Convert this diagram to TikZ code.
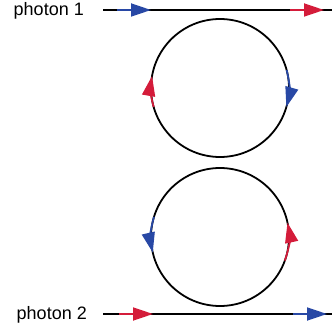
\documentclass[tikz,border=0pt]{standalone}
\usepackage{fontspec}
\setmainfont{Liberation Sans}
\usetikzlibrary{arrows.meta}
\definecolor{arrblue}{RGB}{40,72,165}
\definecolor{arrred}{RGB}{212,28,58}
\begin{document}
\begin{tikzpicture}[x=1pt,y=-1pt,
  wire/.style={line width=1.8pt,black},
  bluearr/.style={line width=1.8pt,arrblue,-{Triangle[length=20pt,width=13pt]}},
  redarr/.style={line width=1.8pt,arrred,-{Triangle[length=20pt,width=13pt]}},
  lbl/.style={anchor=east,inner sep=0pt,font=\fontsize{18}{21}\selectfont}]
\useasboundingbox (0,0) rectangle (332,329);
% labels
\node[lbl] (p1) at (84,11) {photon 1};
\node[lbl] (p2) at (87,315) {photon 2};
% coordinates
\coordinate (a1) at (103,10);
\coordinate (b1) at (335,10);
\coordinate (a2) at (103,314);
\coordinate (b2) at (335,314);
\coordinate (c1) at (220,88);
\coordinate (c2) at (220,237);
% waveguides
\draw[wire] (a1) -- (b1);
\draw[wire] (a2) -- (b2);
% rings
\draw[wire] (c1) circle[radius=69];
\draw[wire] (c2) circle[radius=69];
% arrows on top waveguide
\coordinate (t1s) at (117,10); \coordinate (t1e) at (151,10);
\coordinate (t2s) at (290,10); \coordinate (t2e) at (324,10);
\draw[bluearr] (t1s) -- (t1e);
\draw[redarr] (t2s) -- (t2e);
% arrows on bottom waveguide
\coordinate (u1s) at (119,314); \coordinate (u1e) at (153,314);
\coordinate (u2s) at (293,314); \coordinate (u2e) at (327,314);
\draw[redarr] (u1s) -- (u1e);
\draw[bluearr] (u2s) -- (u2e);
% arrows on top ring
\draw[redarr] ([shift={(164:69)}]c1) arc[start angle=164,end angle=190,radius=69];
\draw[bluearr] ([shift={(-15:69)}]c1) arc[start angle=-15,end angle=16,radius=69];
% arrows on bottom ring
\draw[bluearr] ([shift={(197:69)}]c2) arc[start angle=197,end angle=167,radius=69];
\draw[redarr] ([shift={(20:69)}]c2) arc[start angle=20,end angle=-12,radius=69];
\end{tikzpicture}
\end{document}
